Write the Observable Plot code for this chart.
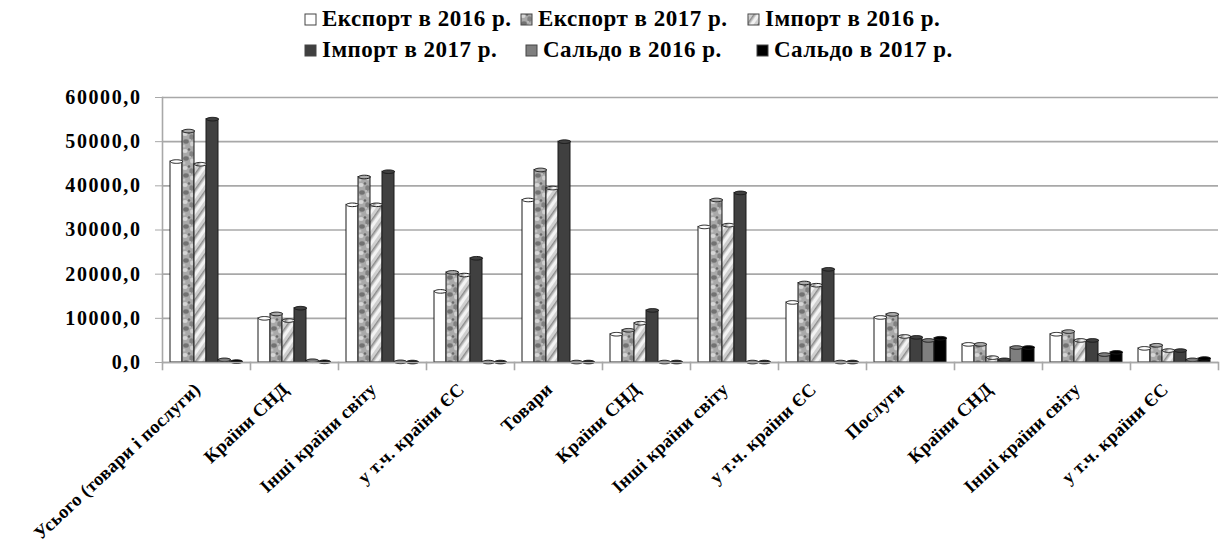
<!DOCTYPE html>
<html><head><meta charset="utf-8">
<script src="https://cdn.jsdelivr.net/npm/d3@7"></script>
<script src="https://cdn.jsdelivr.net/npm/@observablehq/plot@0.6"></script>
<style>
body{margin:0;background:#fff;font-family:"Liberation Serif","Times New Roman",serif;}
#legend{height:80px;position:relative;font-weight:bold;font-size:23px;letter-spacing:0.5px;color:#000;}
.row{position:absolute;left:304px;display:grid;white-space:nowrap;}
.item{display:flex;align-items:center;}
.item svg{margin-right:5px;flex-shrink:0;}
</style></head>
<body>
<svg width="0" height="0" style="position:absolute">
<defs>
<pattern id="mottle" width="13" height="17" patternUnits="userSpaceOnUse">
<rect width="13" height="17" fill="#a9a9a9"/>
<ellipse cx="3" cy="3" rx="2.6" ry="2" fill="#d6d6d6"/>
<ellipse cx="9.5" cy="6" rx="2.2" ry="2.8" fill="#828282"/>
<ellipse cx="4" cy="10.5" rx="2.8" ry="2.2" fill="#727272"/>
<ellipse cx="10" cy="13" rx="2" ry="2.4" fill="#d0d0d0"/>
<circle cx="7" cy="1.5" r="1.3" fill="#6a6a6a"/>
<circle cx="2" cy="15" r="1.5" fill="#c4c4c4"/>
<circle cx="8" cy="9" r="1.1" fill="#bdbdbd"/>
</pattern>
<pattern id="stripes" width="9" height="9" patternUnits="userSpaceOnUse" patternTransform="rotate(35)">
<rect width="9" height="9" fill="#cfcfcf"/>
<rect width="3" height="9" fill="#f2f2f2"/>
<rect x="6" width="1.5" height="9" fill="#8c8c8c"/>
</pattern>
</defs>
</svg>
<div id="legend"></div>
<div id="chart"></div>
<script>
const categories = ["Усього (товари і послуги)", "Країни СНД", "Інші країни світу", "у т.ч. країни ЄС", "Товари", "Країни СНД", "Інші країни світу", "у т.ч. країни ЄС", "Послуги", "Країни СНД", "Інші країни світу", "у т.ч. країни ЄС"];
const series = ["Експорт в 2016 р.", "Експорт в 2017 р.", "Імпорт в 2016 р.", "Імпорт в 2017 р.", "Сальдо в 2016 р.", "Сальдо в 2017 р."];
const export2016 = [45500, 10000, 35700, 16100, 36800, 6400, 30700, 13600, 10200, 4100, 6400, 3200];
const export2017 = [52400, 11000, 42000, 20400, 43600, 7300, 36800, 18000, 10900, 4100, 7000, 3900];
const import2016 = [44900, 9500, 35700, 19800, 39500, 8900, 31100, 17500, 5900, 1100, 5000, 2700];
const import2017 = [55100, 12300, 43200, 23600, 50000, 11800, 38400, 21100, 5700, 600, 5000, 2700];
const saldo2016 = [600, 400, 150, 100, 100, 100, 100, 100, 5000, 3400, 1800, 600];
const saldo2017 = [200, 150, 100, 100, 100, 100, 100, 100, 5500, 3400, 2300, 900];
const yTicks = [0, 10000, 20000, 30000, 40000, 50000, 60000];
const fills = ["#ffffff", "url(#mottle)", "url(#stripes)", "#404040", "#7f7f7f", "#000000"];

const values = [export2016, export2017, import2016, import2017, saldo2016, saldo2017];
const rows = [];
categories.forEach((c, i) => series.forEach((s, j) => rows.push({cat: i, series: s, value: values[j][i]})));

// legend
const lg = document.getElementById("legend");
[[0,1,2],[3,4,5]].forEach((idx, r) => {
  const row = document.createElement("div");
  row.className = "row";
  row.style.top = (r === 0 ? 6 : 37) + "px";
  row.style.gridTemplateColumns = r === 0 ? "216px 227px auto" : "221px 231px auto";
  idx.forEach(j => {
    const it = document.createElement("div");
    it.className = "item";
    it.innerHTML = `<svg width="13" height="13"><rect x="1" y="1" width="11" height="11" fill="${fills[j]}" stroke="#444" stroke-width="1"/></svg><span>${series[j]}</span>`;
    row.appendChild(it);
  });
  lg.appendChild(row);
});

const capSymbol = {
  draw(ctx, size) {
    const rx = Math.sqrt(size / Math.PI), ry = rx * 0.3, k = 0.5523;
    ctx.moveTo(-rx, 0);
    ctx.bezierCurveTo(-rx, -ry * k, -rx * k, -ry, 0, -ry);
    ctx.bezierCurveTo(rx * k, -ry, rx, -ry * k, rx, 0);
    ctx.bezierCurveTo(rx, ry * k, rx * k, ry, 0, ry);
    ctx.bezierCurveTo(-rx * k, ry, -rx, ry * k, -rx, 0);
    ctx.closePath();
  }
};

const chart = Plot.plot({
  width: 1224, height: 472,
  marginLeft: 162, marginRight: 6, marginTop: 17, marginBottom: 190,
  style: {fontFamily: "'Liberation Serif','Times New Roman',serif", fontWeight: "bold", fontSize: "20px", color: "#000", background: "#fff"},
  fx: {domain: d3.range(categories.length), padding: 0, label: null, axis: null},
  x: {domain: series, paddingInner: 0.04, paddingOuter: 0.6, axis: null},
  y: {domain: [0, 60000], label: null, axis: null},
  color: {domain: series, range: fills},
  marks: [
    Plot.gridY(yTicks, {stroke: "#a8a8a8", strokeOpacity: 1, strokeWidth: 1.6}),
    Plot.barY(rows, {fx: "cat", x: "series", y: "value", fill: "series", stroke: "#1a1a1a", strokeWidth: 1}),
    Plot.dot(rows, {fx: "cat", x: "series", y: "value", fill: "series", stroke: "#1a1a1a", strokeWidth: 1, symbol: capSymbol, r: 6}),
    Plot.ruleY([0], {stroke: "#a8a8a8", strokeWidth: 1.6}),
    Plot.frame({anchor: "left", facetAnchor: "left", stroke: "#a8a8a8", strokeWidth: 1.6}),
    Plot.frame({anchor: "left", stroke: "#a8a8a8", strokeWidth: 1.6, insetTop: 265, insetBottom: -7}),
    Plot.frame({anchor: "right", facetAnchor: "right", stroke: "#a8a8a8", strokeWidth: 1.6, insetTop: 265, insetBottom: -7}),
    Plot.axisY(yTicks, {tickSize: 7, stroke: "#a8a8a8", fill: "#000", tickPadding: 14, tickFormat: d => d + ",0", fontSize: 20}),
    Plot.axisFx({anchor: "bottom", tickRotate: -43, tickSize: 0, tickPadding: 20, dx: -9, dy: 4, tickFormat: i => categories[i], fontSize: 18.5, fill: "#000"})
  ]
});
d3.select(chart).selectAll('g[aria-label="y-axis tick label"]').style("letter-spacing", "1.6px");
d3.select(chart).selectAll('g[aria-label="fx-axis tick label"]').style("letter-spacing", "0.3px");
document.getElementById("chart").appendChild(chart);
</script>
</body></html>
